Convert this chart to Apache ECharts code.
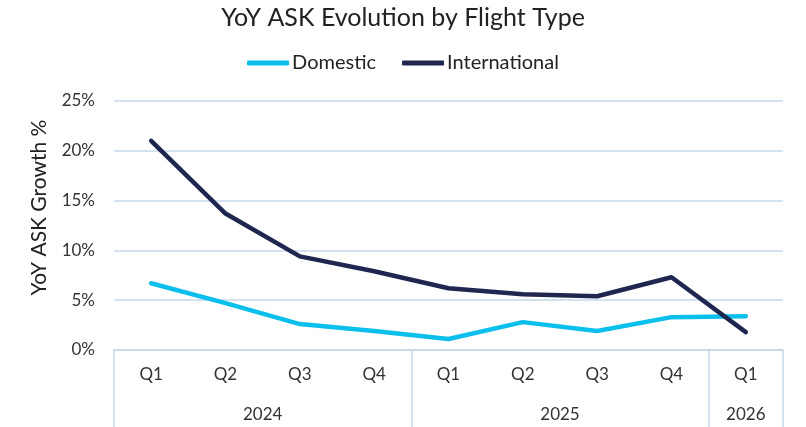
<!DOCTYPE html>
<html>
<head>
<meta charset="utf-8">
<script src="https://cdn.jsdelivr.net/npm/echarts@6/dist/echarts.min.js"></script>
<style>
  html, body { margin: 0; padding: 0; background: #fff; }
  #chart { width: 806px; height: 427px; }
</style>
</head>
<body>
<div id="chart"></div>
<script>
// quarters on the first level, years on the second
var quarters = ['Q1', 'Q2', 'Q3', 'Q4', 'Q1', 'Q2', 'Q3', 'Q4', 'Q1'];
var years = ['2024', '2025', '2026'];
var yearSpans = [4, 4, 1]; // how many quarters each year covers
var domestic = [6.7, 4.7, 2.6, 1.9, 1.1, 2.8, 1.9, 3.3, 3.4];
var international = [21.0, 13.7, 9.4, 7.9, 6.2, 5.6, 5.4, 7.3, 1.8];
var yTicks = [0, 5, 10, 15, 20, 25];

var FONT = 'Lato';
var GRID = '#C5D9EB';

// year label positions, in half-quarter units (centre of each span)
var yearAt = {};
var start = 0;
yearSpans.forEach(function (n, i) {
  yearAt[start * 2 + n] = years[i];
  start += n;
});

var chart = echarts.init(document.getElementById('chart'));
chart.setOption({
  animation: false,
  title: {
    text: 'YoY ASK Evolution by Flight Type',
    left: 'center',
    top: 0,
    textStyle: { fontFamily: FONT, fontSize: 25, fontWeight: 'normal', color: '#222' }
  },
  legend: {
    top: 48,
    left: 'center',
    icon: 'roundRect',
    itemWidth: 42,
    itemHeight: 5,
    itemGap: 26,
    textStyle: { fontFamily: FONT, fontSize: 20, color: '#222', padding: [0, 0, 0, -2] },
    data: ['Domestic', 'International']
  },
  grid: { left: 114, right: 23, top: 101, bottom: 77 },
  xAxis: [{
    type: 'category',
    data: quarters,
    boundaryGap: true,
    axisLine: { lineStyle: { color: GRID, width: 1.5 } },
    axisTick: {
      show: true,
      interval: yearSpans[0] - 1,
      length: 80,
      lineStyle: { color: GRID, width: 1.5 }
    },
    axisLabel: { interval: 0, fontFamily: FONT, fontSize: 17, color: '#333', margin: 16 }
  }, {
    type: 'value',
    position: 'bottom',
    min: 0,
    max: quarters.length * 2,
    interval: 1,
    offset: 52,
    axisLine: { show: false },
    axisTick: { show: false },
    splitLine: { show: false },
    axisLabel: {
      margin: 4,
      fontFamily: FONT, fontSize: 17, color: '#333',
      formatter: function (v) { return yearAt[v] || ''; }
    }
  }],
  yAxis: {
    type: 'value',
    min: yTicks[0],
    max: yTicks[yTicks.length - 1],
    interval: 5,
    name: 'YoY ASK Growth %',
    nameLocation: 'middle',
    nameGap: 64,
    nameTextStyle: { fontFamily: FONT, fontSize: 21, color: '#222', padding: [0, 0, 0, 36] },
    axisLine: { show: false },
    axisTick: { show: false },
    axisLabel: { formatter: '{value}%', fontFamily: FONT, fontSize: 17, color: '#333', margin: 19 },
    splitLine: { lineStyle: { color: GRID, width: 1.5 } }
  },
  series: [{
    name: 'Domestic',
    type: 'line',
    data: domestic,
    symbol: 'none',
    color: '#0BBFEC',
    lineStyle: { width: 4.5, cap: 'round', join: 'round' }
  }, {
    name: 'International',
    type: 'line',
    data: international,
    symbol: 'none',
    color: '#1F2750',
    lineStyle: { width: 4.5, cap: 'round', join: 'round' }
  }]
});
</script>
</body>
</html>
